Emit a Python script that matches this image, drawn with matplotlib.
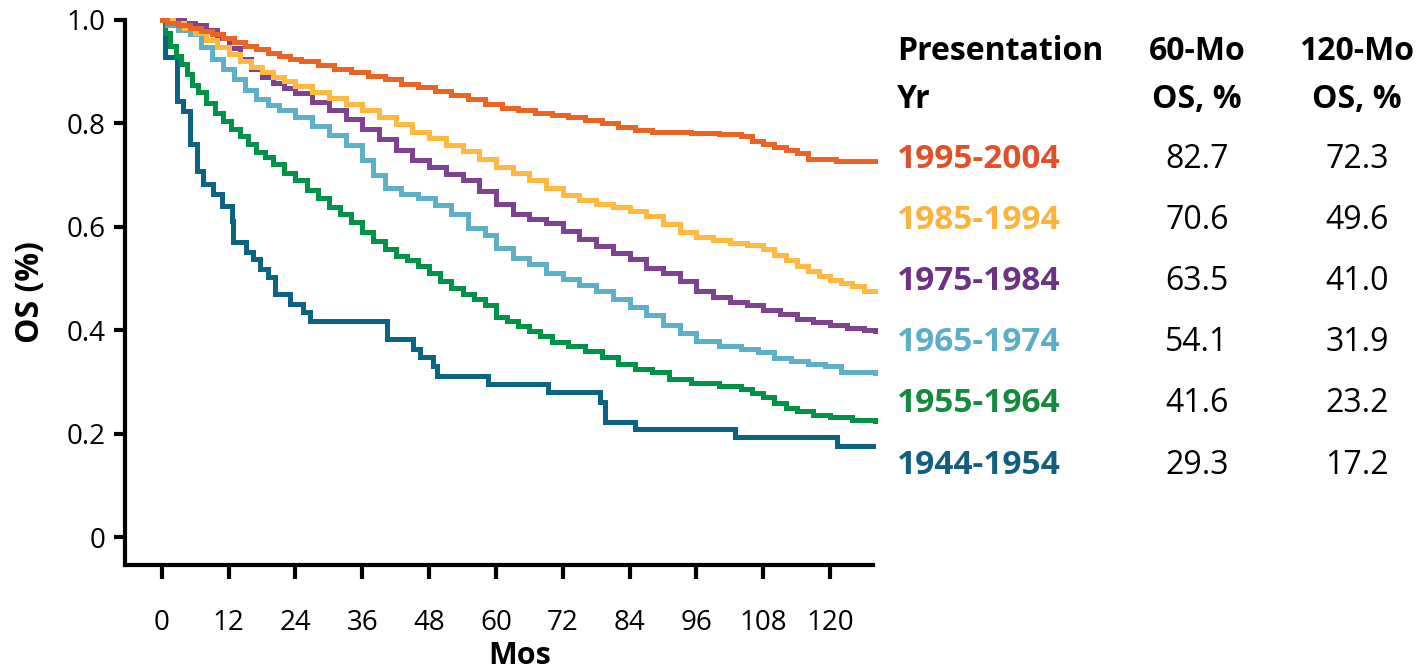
import matplotlib
matplotlib.use("Agg")
import matplotlib.pyplot as plt

plt.rcParams['font.family'] = ['Open Sans', 'DejaVu Sans']

# Kaplan-Meier readings (month, OS fraction)
os_1995 = [(0, 1.0), (1, 0.995), (3, 0.99), (5, 0.985), (7, 0.978), (9, 0.972), (11, 0.965),
           (13, 0.958), (15, 0.95), (17, 0.943), (19, 0.936), (21, 0.93), (23, 0.925), (25, 0.92),
           (28, 0.913), (31, 0.906), (34, 0.899), (37, 0.892), (40, 0.885), (43, 0.877), (46, 0.87),
           (49, 0.863), (52, 0.855), (55, 0.847), (58, 0.838), (61, 0.829), (64, 0.825), (67, 0.82),
           (70, 0.816), (73, 0.813), (76, 0.807), (79, 0.8), (82, 0.793), (85, 0.788), (88, 0.784),
           (91, 0.783), (95, 0.782), (100, 0.78), (104, 0.775), (106, 0.766), (108, 0.76),
           (110, 0.755), (112, 0.748), (114, 0.742), (116, 0.732), (121, 0.727), (128, 0.727)]
os_1985 = [(0, 1.0), (2, 0.995), (4, 0.985), (6, 0.975), (8, 0.962), (10, 0.948), (12, 0.935),
           (14, 0.92), (16, 0.91), (18, 0.9), (20, 0.89), (22, 0.882), (24, 0.873), (27, 0.86),
           (30, 0.849), (33, 0.837), (36, 0.825), (39, 0.812), (42, 0.798), (45, 0.784), (48, 0.771),
           (51, 0.759), (54, 0.746), (57, 0.732), (60, 0.716), (63, 0.704), (66, 0.69), (69, 0.675),
           (72, 0.662), (75, 0.652), (78, 0.645), (81, 0.638), (84, 0.63), (87, 0.62), (90, 0.605),
           (93, 0.59), (96, 0.58), (99, 0.574), (102, 0.568), (105, 0.564), (108, 0.557),
           (110, 0.545), (112, 0.535), (114, 0.525), (116, 0.514), (118, 0.505), (120, 0.498),
           (122, 0.492), (124, 0.485), (126, 0.476), (128, 0.476)]
os_1975 = [(0, 1.0), (2, 1.0), (4, 0.995), (6, 0.99), (8, 0.98), (10, 0.965), (12, 0.945),
           (14, 0.925), (16, 0.905), (18, 0.89), (20, 0.878), (22, 0.868), (24, 0.858), (27, 0.842),
           (30, 0.826), (33, 0.808), (36, 0.79), (39, 0.77), (42, 0.748), (45, 0.73), (48, 0.715),
           (51, 0.703), (54, 0.69), (57, 0.67), (60, 0.645), (63, 0.625), (66, 0.615), (69, 0.608),
           (72, 0.592), (75, 0.576), (78, 0.563), (81, 0.55), (84, 0.538), (87, 0.52), (90, 0.51),
           (93, 0.495), (96, 0.475), (99, 0.465), (102, 0.455), (105, 0.448), (108, 0.44),
           (111, 0.432), (114, 0.422), (117, 0.415), (120, 0.41), (123, 0.405), (126, 0.4), (128, 0.398)]
os_1965 = [(0, 1.0), (1, 0.99), (3, 0.98), (5, 0.972), (7, 0.948), (9, 0.925), (11, 0.905),
           (13, 0.885), (15, 0.865), (17, 0.848), (19, 0.835), (21, 0.825), (24, 0.812), (27, 0.795),
           (30, 0.778), (33, 0.758), (36, 0.73), (38, 0.7), (40, 0.675), (43, 0.663), (46, 0.655),
           (49, 0.643), (52, 0.625), (55, 0.598), (58, 0.585), (60, 0.56), (63, 0.54), (66, 0.528),
           (69, 0.51), (72, 0.5), (75, 0.488), (78, 0.475), (81, 0.46), (84, 0.445), (87, 0.43),
           (90, 0.41), (93, 0.395), (96, 0.38), (100, 0.37), (104, 0.364), (107, 0.358), (110, 0.346),
           (113, 0.34), (116, 0.335), (119, 0.33), (122, 0.32), (128, 0.318)]
os_1955 = [(0, 1.0), (0.5, 0.975), (1.5, 0.95), (2.5, 0.93), (3.5, 0.915), (4.5, 0.895), (5.5, 0.875),
           (6.5, 0.86), (8, 0.84), (9.5, 0.82), (11, 0.805), (12.5, 0.79), (14, 0.775), (15.5, 0.76),
           (17, 0.745), (18.5, 0.735), (20, 0.722), (22, 0.705), (24, 0.69), (26, 0.672), (28, 0.655),
           (30, 0.638), (32, 0.625), (34, 0.61), (36, 0.59), (38, 0.573), (40, 0.558), (42, 0.543),
           (44, 0.535), (46, 0.525), (48, 0.51), (50, 0.495), (52, 0.482), (54, 0.47), (56, 0.46),
           (58, 0.448), (60, 0.425), (62, 0.418), (64, 0.408), (66, 0.398), (68, 0.388), (70, 0.378),
           (73, 0.37), (76, 0.36), (79, 0.348), (82, 0.335), (85, 0.325), (88, 0.32), (91, 0.305),
           (95, 0.298), (100, 0.292), (104, 0.286), (106, 0.278), (108, 0.27), (110, 0.26),
           (112, 0.25), (114, 0.243), (117, 0.237), (120, 0.232), (124, 0.226), (128, 0.224)]
os_1944 = [(0, 1.0), (0.5, 0.928), (2.7, 0.843), (3.8, 0.824), (5, 0.76), (6.3, 0.708), (7.4, 0.683),
           (9.2, 0.663), (10.8, 0.64), (12.6, 0.611), (12.8, 0.571), (15.2, 0.551), (16.3, 0.538),
           (17.6, 0.518), (19, 0.503), (20.3, 0.47), (23, 0.451), (25.3, 0.435), (26.6, 0.418),
           (40.4, 0.383), (45.1, 0.364), (46.3, 0.348), (48.7, 0.331), (49.4, 0.311), (58.6, 0.296),
           (69.4, 0.28), (78.7, 0.261), (79.6, 0.222), (85, 0.209), (102.9, 0.193), (121.2, 0.176),
           (127.7, 0.176)]

periods = ['1995-2004', '1985-1994', '1975-1984', '1965-1974', '1955-1964', '1944-1954']
curves = [os_1995, os_1985, os_1975, os_1965, os_1955, os_1944]
os_60 = ['82.7', '70.6', '63.5', '54.1', '41.6', '29.3']
os_120 = ['72.3', '49.6', '41.0', '31.9', '23.2', '17.2']
line_colors = ['#EC6424', '#FFB940', '#7D4290', '#5CB0C8', '#009246', '#0B6482']
label_colors = ['#E2502A', '#FFB23A', '#6E3285', '#5AAFC8', '#138A3E', '#115E7E']

W, H = 1427, 671
fig = plt.figure(figsize=(W / 100, H / 100), dpi=100)
ax = fig.add_axes([125 / W, 106 / H, 748 / W, 545 / H])

# draw oldest first so newer cohorts sit on top
for c, col in reversed(list(zip(curves, line_colors))):
    t, v = zip(*c)
    ax.plot(t, v, drawstyle='steps-post', color=col, lw=3.6, clip_on=False,
            solid_joinstyle='miter')

ax.set_xlim(-6.6, 127.7)
ax.set_ylim(-0.054, 1.0)
ax.spines['top'].set_visible(False)
ax.spines['right'].set_visible(False)
ax.spines['left'].set_linewidth(3)
ax.spines['bottom'].set_linewidth(3)
ax.set_xticks(range(0, 121, 12))
ax.set_yticks([0, 0.2, 0.4, 0.6, 0.8, 1.0])
ax.set_yticklabels(['0', '0.2', '0.4', '0.6', '0.8', '1.0'])
ax.tick_params(axis='x', length=10, width=3, pad=22, labelsize=20)
ax.tick_params(axis='y', length=8, width=3, pad=6, labelsize=20)
ax.set_ylabel('OS (%)', fontsize=23, fontweight='bold', labelpad=14)


def ftext(x, y, s, **kw):
    fig.text(x / W, 1 - y / H, s, va='center', **kw)


ftext(520, 656, 'Mos', fontsize=22, fontweight='bold', ha='center')

ftext(897, 52, 'Presentation', fontsize=23, fontweight='bold', ha='left')
ftext(897, 100, 'Yr', fontsize=23, fontweight='bold', ha='left')
ftext(1197, 52, '60-Mo', fontsize=23, fontweight='bold', ha='center')
ftext(1197, 100, 'OS, %', fontsize=23, fontweight='bold', ha='center')
ftext(1357, 52, '120-Mo', fontsize=23, fontweight='bold', ha='center')
ftext(1357, 100, 'OS, %', fontsize=23, fontweight='bold', ha='center')

for i, (p, a, b, col) in enumerate(zip(periods, os_60, os_120, label_colors)):
    y = 159 + i * 61.2
    ftext(897, y, p, fontsize=24, fontweight='bold', color=col, ha='left')
    ftext(1197, y, a, fontsize=23, ha='center')
    ftext(1357, y, b, fontsize=23, ha='center')

fig.savefig('out.png', dpi=100)
